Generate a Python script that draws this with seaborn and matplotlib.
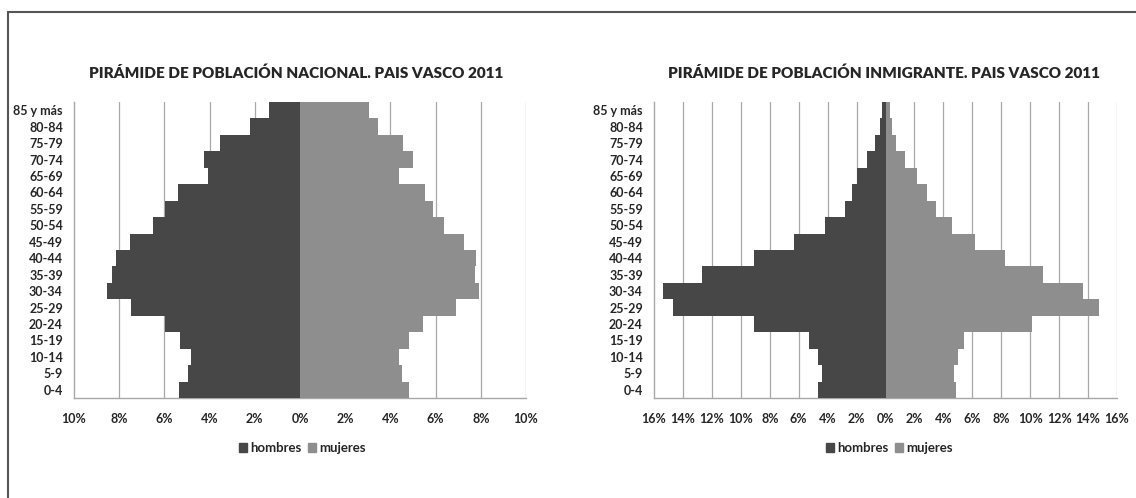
import numpy as np
import pandas as pd
import matplotlib
matplotlib.use('Agg')
import matplotlib.pyplot as plt
import seaborn as sns
from matplotlib.patches import Patch
from matplotlib.ticker import FixedLocator, FuncFormatter
from matplotlib.lines import Line2D

# grupos de edad, de arriba a abajo
edades = ['85 y más', '80-84', '75-79', '70-74', '65-69', '60-64', '55-59', '50-54', '45-49',
          '40-44', '35-39', '30-34', '25-29', '20-24', '15-19', '10-14', '5-9', '0-4']

# poblacion nacional (%)
nac_hombres = [1.39, 2.21, 3.52, 4.25, 4.09, 5.38, 5.96, 6.52, 7.52,
               8.16, 8.30, 8.55, 7.49, 5.96, 5.29, 4.81, 4.97, 5.37]
nac_mujeres = [3.07, 3.44, 4.57, 4.99, 4.40, 5.55, 5.88, 6.39, 7.26,
               7.80, 7.76, 7.91, 6.89, 5.46, 4.84, 4.40, 4.53, 4.84]

# poblacion inmigrante (%)
inm_hombres = [0.24, 0.38, 0.71, 1.30, 1.99, 2.32, 2.82, 4.17, 6.32,
               9.09, 12.69, 15.38, 14.72, 9.09, 5.28, 4.69, 4.38, 4.64]
inm_mujeres = [0.33, 0.47, 0.76, 1.33, 2.15, 2.86, 3.46, 4.57, 6.18,
               8.26, 10.91, 13.63, 14.79, 10.15, 5.44, 5.02, 4.71, 4.88]

titulos = ['PIRÁMIDE DE POBLACIÓN NACIONAL. PAIS VASCO 2011',
           'PIRÁMIDE DE POBLACIÓN INMIGRANTE. PAIS VASCO 2011']

sns.set_style('white')
plt.rcParams['font.family'] = ['Lato', 'DejaVu Sans']

colores = {'hombres': '#474747', 'mujeres': '#8e8e8e'}
grid_col = '#a8a8a8'


def tabla(hombres, mujeres):
    h = pd.DataFrame({'edad': edades, 'valor': [-v for v in hombres], 'sexo': 'hombres'})
    m = pd.DataFrame({'edad': edades, 'valor': mujeres, 'sexo': 'mujeres'})
    return pd.concat([h, m], ignore_index=True)


W, H = 1136, 498
fig = plt.figure(figsize=(W / 100, H / 100), dpi=100)
ax1 = fig.add_axes([74 / W, 1 - 398 / H, 452 / W, 296 / H])
ax2 = fig.add_axes([654 / W, 1 - 398 / H, 463 / W, 296 / H])

config = [
    (ax1, tabla(nac_hombres, nac_mujeres), 10, titulos[0], 296, 302),
    (ax2, tabla(inm_hombres, inm_mujeres), 16, titulos[1], 884, 889),
]

for ax, df, lim, titulo, tx, lx in config:
    sns.barplot(data=df, x='valor', y='edad', hue='sexo', order=edades, dodge=False,
                width=1.0, palette=colores, saturation=1, legend=False, ax=ax,
                edgecolor='none', linewidth=0, zorder=3)
    ax.set_xlim(-lim, lim)
    ax.set_ylim(len(edades) - 0.5, -0.5)
    ticks = np.arange(-lim, lim + 0.1, 2)
    ax.xaxis.set_major_locator(FixedLocator(ticks))
    ax.xaxis.set_major_formatter(FuncFormatter(lambda v, p: f'{abs(v):.0f}%'))
    ax.set_xlabel('')
    ax.set_ylabel('')
    ax.grid(False)
    for t in ticks[1:]:
        ax.axvline(t, color=grid_col, lw=0.9, zorder=1)
    for s in ['top', 'right']:
        ax.spines[s].set_visible(False)
    for s in ['left', 'bottom']:
        ax.spines[s].set_color(grid_col)
        ax.spines[s].set_linewidth(1.0)
    ax.set_yticks(np.arange(len(edades) + 1) - 0.5, minor=True)
    ax.tick_params(axis='y', which='minor', length=4, color=grid_col, width=1, direction='out')
    ax.tick_params(axis='y', which='major', length=0, pad=8, labelsize=9)
    ax.tick_params(axis='x', which='major', length=4, color=grid_col, width=1, direction='out',
                   pad=7, labelsize=9)
    for lab in ax.get_xticklabels() + ax.get_yticklabels():
        lab.set_fontweight('bold')

    fig.text(tx / W, 1 - 73 / H, titulo, ha='center', va='center',
             fontsize=11, fontweight='heavy')

    handles = [Patch(color=colores['hombres'], label='hombres'),
               Patch(color=colores['mujeres'], label='mujeres')]
    fig.legend(handles=handles, loc='center', bbox_to_anchor=(lx / W, 1 - 448 / H),
               ncol=2, frameon=False, prop={'size': 9.5, 'weight': 'bold'},
               handlelength=0.6, handleheight=0.6, handletextpad=0.25, columnspacing=0.5)

# marco del grafico
fig.add_artist(Line2D([8 / W, 8 / W], [0, 1 - 12 / H], color='#555555', lw=1.5))
fig.add_artist(Line2D([8 / W, 1], [1 - 12 / H, 1 - 12 / H], color='#555555', lw=1.5))

fig.savefig('out.png', dpi=100)
